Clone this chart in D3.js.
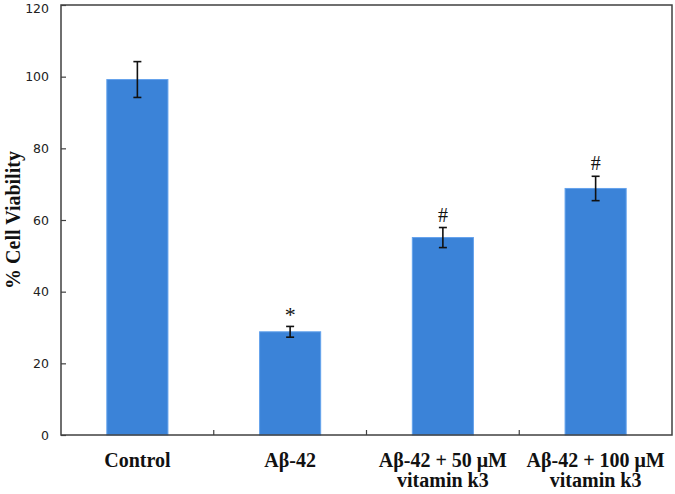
<!DOCTYPE html>
<html>
<head>
<meta charset="utf-8">
<script src="https://cdn.jsdelivr.net/npm/d3@7"></script>
<style>
  html, body { margin: 0; padding: 0; background: #fff; }
</style>
</head>
<body>
<svg id="chart" width="675" height="494"></svg>
<script>
const categories = ["Control", "Aβ-42", "Aβ-42 + 50 μM|vitamin k3", "Aβ-42 + 100 μM|vitamin k3"];
const values = [99.2, 28.8, 55.1, 68.8];
const errors = [5.0, 1.5, 2.8, 3.4];
const marks = ["", "*", "#", "#"];
const yTicks = [0, 20, 40, 60, 80, 100, 120];
const yTitle = "% Cell Viability";

const svg = d3.select("#chart");
const m = { left: 61, right: 3, top: 5, bottom: 59 };
const W = 675, H = 494;
const x = d3.scaleBand().domain(categories).range([m.left, W - m.right]).paddingInner(0.6).paddingOuter(0.3);
const y = d3.scaleLinear().domain([0, 120]).range([H - m.bottom, m.top]);
const axisColor = "#404040";

// bars
svg.append("g").selectAll("rect").data(categories).join("rect")
  .attr("x", d => x(d))
  .attr("y", (d, i) => y(values[i]))
  .attr("width", x.bandwidth())
  .attr("height", (d, i) => y(0) - y(values[i]))
  .attr("fill", "#3b83d8")
  .attr("stroke", "#64a2ec")
  .attr("stroke-width", 1);

// error bars
const eg = svg.append("g").attr("stroke", "#111").attr("stroke-width", 1.6);
categories.forEach((c, i) => {
  const cx = x(c) + x.bandwidth() / 2;
  const t = y(values[i] + errors[i]), b = y(values[i] - errors[i]);
  eg.append("line").attr("x1", cx).attr("x2", cx).attr("y1", t).attr("y2", b);
  eg.append("line").attr("x1", cx - 4).attr("x2", cx + 4).attr("y1", t).attr("y2", t);
  eg.append("line").attr("x1", cx - 4).attr("x2", cx + 4).attr("y1", b).attr("y2", b);
});

// significance marks
svg.append("g").selectAll("text").data(categories).join("text")
  .attr("x", d => x(d) + x.bandwidth() / 2)
  .attr("y", (d, i) => y(values[i] + errors[i]) - (marks[i] === "*" ? 4 : 6))
  .attr("text-anchor", "middle")
  .attr("font-family", "'Liberation Serif', 'Times New Roman', serif")
  .attr("font-size", (d, i) => marks[i] === "*" ? 22 : 20)
  .attr("fill", "#111")
  .text((d, i) => marks[i]);

// frame
svg.append("rect")
  .attr("x", m.left).attr("y", m.top)
  .attr("width", W - m.left - m.right).attr("height", H - m.top - m.bottom)
  .attr("fill", "none").attr("stroke", axisColor).attr("stroke-width", 1.5);

// y axis (ticks inward)
const yAxis = svg.append("g").attr("transform", `translate(${m.left},0)`)
  .call(d3.axisRight(y).tickValues(yTicks).tickSize(5).tickFormat(d3.format("d")));
yAxis.select(".domain").remove();
yAxis.selectAll("line").attr("stroke", axisColor).attr("stroke-width", 1.2);
yAxis.selectAll("text")
  .attr("x", -12).attr("text-anchor", "end")
  .attr("dy", d => d === 120 ? "0.6em" : "0.32em")
  .attr("font-family", "'DejaVu Sans', Verdana, sans-serif")
  .attr("font-size", 12.5).attr("fill", "#222");

// x axis ticks between categories (inward)
const xBoundaries = categories.slice(1).map(c => x(c) - x.step() * x.paddingInner() / 2);
svg.append("g").selectAll("line").data(xBoundaries).join("line")
  .attr("x1", d => d).attr("x2", d => d)
  .attr("y1", y(0)).attr("y2", y(0) - 5)
  .attr("stroke", axisColor).attr("stroke-width", 1.2);

// x labels
const xl = svg.append("g");
categories.forEach(c => {
  const lines = c.split("|");
  const t = xl.append("text")
    .attr("x", x(c) + x.bandwidth() / 2)
    .attr("y", 467)
    .attr("text-anchor", "middle")
    .attr("font-family", "'Liberation Serif', 'Times New Roman', serif")
    .attr("font-weight", "bold")
    .attr("font-size", 20)
    .attr("fill", "#111");
  lines.forEach((l, k) => {
    t.append("tspan").attr("x", x(c) + x.bandwidth() / 2).attr("dy", k === 0 ? 0 : 20).text(l);
  });
});

// y title
svg.append("text")
  .attr("transform", `translate(20,${(y(0) + y(120)) / 2}) rotate(-90)`)
  .attr("text-anchor", "middle")
  .attr("font-family", "'Liberation Serif', 'Times New Roman', serif")
  .attr("font-weight", "bold")
  .attr("font-size", 20)
  .attr("fill", "#111")
  .text(yTitle);
</script>
</body>
</html>
